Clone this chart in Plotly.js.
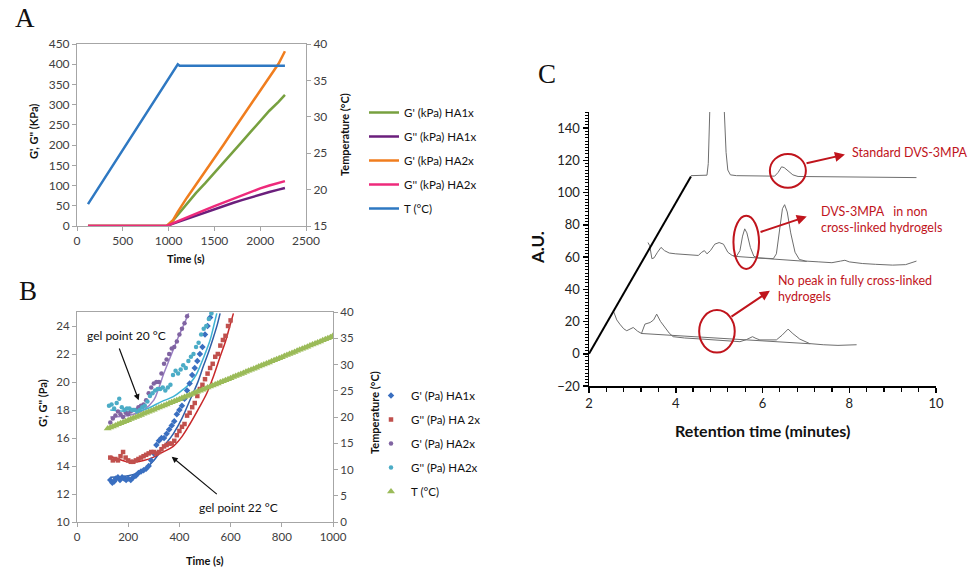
<!DOCTYPE html>
<html><head><meta charset="utf-8">
<script src="https://cdn.plot.ly/plotly-3.0.1.min.js"></script>
<style>html,body{margin:0;padding:0;background:#fff}#chart{width:969px;height:570px}</style>
</head><body><div id="chart"></div>
<script>
// ---------- Panel A data ----------
const timeA = [120, 300, 500, 700, 900, 980, 1050, 1100, 1200, 1300, 1400, 1500, 1600, 1700, 1800, 1900, 2000, 2100, 2200, 2270];
const gPrimeHA1x = [0, 0, 0, 0, 0, 0, 14, 28, 55, 82, 106, 131, 157, 183, 208, 234, 260, 285, 307, 324];
const gDoubleHA1x = [0, 0, 0, 0, 0, 0, 6, 10, 19, 27, 35, 42, 49, 57, 64, 71, 78, 84, 90, 94];
const gPrimeHA2x = [0, 0, 0, 0, 0, 0, 15, 35, 70, 102, 135, 168, 201, 235, 268, 301, 334, 367, 401, 432];
const gDoubleHA2x = [0, 0, 0, 0, 0, 0, 7, 12, 22, 31, 40, 49, 58, 67, 76, 85, 93, 100, 106, 111];
const timeT_A = [120, 1080, 1100, 1120, 2270];
const tempA = [18.0, 36.8, 37.2, 37.0, 37.0];
const namesA = ["G' (kPa) HA1x", "G'' (kPa) HA1x", "G' (kPa) HA2x", "G'' (kPa) HA2x", "T (°C)"];

// ---------- Panel B data ----------
const xBlue = [130,138,145,152,160,168,176,184,192,200,210,220,230,240,250,260,270,280,290,300,310,320,330,340,350,360,370,380,390,400,410,420,430,440,450,460,470,480,490,500,510,520];
const yBlue = [13.0,12.8,12.9,13.1,13.2,13.0,13.2,13.1,13.0,13.1,13.0,13.2,13.3,13.5,13.6,13.7,13.8,14.0,14.4,14.9,15.5,15.8,16.0,16.0,16.3,16.6,16.9,17.2,17.7,18.0,18.3,18.8,19.4,19.9,20.5,21.0,21.5,22.0,22.5,23.4,24.0,24.6];
const xRed = [130,140,150,160,170,180,190,200,210,220,230,240,250,260,270,280,290,300,310,320,330,340,350,360,370,380,390,400,410,420,430,440,450,460,470,480,490,500,510,520,530,540,550,560,570,580,590,600];
const yRed = [14.6,14.4,14.5,14.4,14.7,15.0,14.6,14.4,14.3,14.3,14.4,14.5,14.6,14.7,14.8,14.9,15.0,15.0,14.9,15.0,15.2,15.4,15.5,15.6,15.6,15.8,16.2,16.5,16.8,17.0,17.6,17.8,18.2,18.5,19.0,19.5,19.8,20.2,20.6,21.0,21.3,21.8,22.0,22.6,23.0,23.3,24.0,24.4];
const xPurple = [130,140,150,160,170,180,190,200,210,220,230,240,250,260,270,280,290,300,310,320,330,340,350,360,370,380,390,400,410,420,430];
const yPurple = [17.1,17.4,17.6,17.9,17.7,17.5,17.8,17.7,17.9,18.0,18.0,18.2,18.3,18.4,18.7,19.2,19.6,19.9,20.0,20.0,20.6,21.3,21.6,22.0,22.4,22.5,22.9,23.4,23.8,24.2,24.7];
const xCyan = [125,135,145,155,165,175,185,195,205,215,225,235,245,255,265,275,285,295,305,315,325,335,345,355,365,375,385,395,405,415,425,435,445,455,465,475,485,495,505,515,525];
const yCyan = [18.3,18.4,18.1,18.5,18.8,18.2,18.0,18.1,18.1,18.0,18.0,17.9,18.0,18.2,18.3,18.6,19.0,19.2,19.4,19.5,19.5,19.6,19.4,19.6,19.8,20.5,20.8,20.6,20.9,21.2,21.0,21.5,21.8,22.0,22.5,22.8,23.4,23.8,24.0,24.5,24.9];
const xTempB = [120,130,140,150,160,170,180,190,200,210,220,230,240,250,260,270,280,290,300,310,320,330,340,350,360,370,380,390,400,410,420,430,440,450,460,470,480,490,500,510,520,530,540,550,560,570,580,590,600,610,620,630,640,650,660,670,680,690,700,710,720,730,740,750,760,770,780,790,800,810,820,830,840,850,860,870,880,890,900,910,920,930,940,950,960,970,980,990,1000];
const yTempB = [17.8,18.0,18.2,18.4,18.6,18.8,19.0,19.2,19.4,19.6,19.8,20.0,20.2,20.4,20.6,20.8,21.0,21.2,21.4,21.6,21.8,22.0,22.2,22.4,22.6,22.8,23.0,23.2,23.4,23.6,23.8,24.0,24.2,24.4,24.6,24.8,25.0,25.2,25.4,25.6,25.8,26.0,26.2,26.4,26.6,26.8,27.0,27.2,27.4,27.6,27.8,28.0,28.2,28.4,28.6,28.8,29.0,29.2,29.4,29.6,29.8,30.0,30.2,30.4,30.6,30.8,31.0,31.2,31.4,31.6,31.8,32.0,32.2,32.4,32.6,32.8,33.0,33.2,33.4,33.6,33.8,34.0,34.2,34.4,34.6,34.8,35.0,35.2,35.5];
// fitted curves
const xFitBlue = [130, 200, 260, 300, 339, 376, 410, 441, 470, 493, 515, 533, 548, 559];
const yFitBlue = [13.2, 13.3, 13.7, 14.4, 15.4, 16.3, 17.4, 18.7, 19.9, 21.1, 22.2, 23.2, 24.1, 24.9];
const xFitRed = [130, 160, 195, 230, 260, 295, 325, 376, 410, 441, 475, 507, 535, 559, 580, 597, 611];
const yFitRed = [14.7, 14.5, 14.3, 14.3, 14.4, 14.6, 14.9, 15.4, 16.1, 17.0, 18.1, 19.2, 20.5, 21.8, 22.9, 24.0, 24.9];
const xFitPurple = [130, 200, 260, 300, 320, 339, 365, 391, 415, 436];
const yFitPurple = [17.5, 17.6, 18.0, 18.7, 19.6, 20.6, 21.8, 23.0, 24.0, 24.9];
const xFitCyan = [130, 200, 260, 330, 376, 410, 441, 465, 480, 500, 520, 534, 546];
const yFitCyan = [18.0, 17.9, 18.0, 18.6, 18.95, 19.4, 19.9, 20.5, 21.1, 22.0, 23.0, 24.0, 24.9];
const namesB = ["G' (Pa) HA1x", "G'' (Pa) HA 2x", "G' (Pa) HA2x", "G'' (Pa) HA2x", "T (°C)"];

// ---------- Panel C data ----------
const xStd = [4.35, 4.6, 4.72, 4.75, 4.78, 4.81, 5.08, 5.12, 5.16, 5.2, 5.26, 5.4, 6.0, 6.28, 6.36, 6.44, 6.5, 6.6, 6.7, 6.82, 7.5, 8.5, 9.55];
const yStd = [110.5, 110.5, 110.8, 118, 140, 175, 175, 150, 125, 114, 111, 110.5, 110.2, 110.2, 112.5, 116, 115.5, 113, 111, 110, 109.8, 109.5, 109.3];
const xMid = [3.36, 3.4, 3.45, 3.5, 3.58, 3.66, 3.74, 3.85, 4.0, 4.2, 4.4, 4.52, 4.6, 4.66, 4.72, 4.8, 4.9, 5.0, 5.1, 5.2, 5.3, 5.4, 5.48, 5.54, 5.59, 5.64, 5.72, 5.8, 5.9, 6.1, 6.25, 6.32, 6.4, 6.46, 6.51, 6.57, 6.65, 6.75, 6.85, 7.0, 7.3, 7.6, 7.8, 7.9, 8.0, 8.3, 8.6, 9.0, 9.3, 9.45, 9.55];
const yMid = [69, 67, 59, 59.5, 63, 66, 64, 62.5, 62, 61.5, 61, 61, 63, 64, 62, 64, 68, 69, 68, 63, 61, 60.5, 64, 73, 77.5, 75, 66, 60.5, 59.5, 59, 59, 62, 78, 90, 92.5, 88, 75, 63, 58.5, 57.5, 57, 56.5, 57.5, 58, 57, 56, 55.5, 55, 55.3, 56.5, 57.5];
const xLow = [2.56, 2.64, 2.71, 2.8, 2.87, 2.95, 3.02, 3.12, 3.21, 3.29, 3.41, 3.49, 3.56, 3.65, 3.75, 3.85, 3.94, 4.2, 4.56, 5.0, 5.48, 5.63, 5.72, 5.77, 5.85, 5.94, 6.32, 6.45, 6.59, 6.7, 6.86, 7.09, 7.4, 7.74, 8.17];
const yLow = [26.7, 21, 18.4, 15.5, 14.3, 15.5, 16.3, 14, 12.6, 18.4, 19.4, 21, 24.6, 20, 16.3, 12.8, 10.6, 9.8, 9.2, 8.5, 7.5, 8.8, 10.3, 10.6, 9.5, 8.6, 8.6, 11.5, 15.3, 12.5, 9.1, 6.3, 5.6, 5.2, 5.6];
const xBaseMid = [5.33, 7.02];
const yBaseMid = [60.5, 57.3];
const xBaseLow = [3.2, 7.1];
const yBaseLow = [12.6, 6.2];
const xOffset = [2, 4.35];
const yOffset = [0, 110];

// ---------- layout helpers ----------
const W = 969, H = 570;
const PX = p => p / W;
const PY = p => 1 - p / H;
const FONT = 'Lato, "Open Sans", sans-serif';
const TICKC = '#404040';
const GRAYL = '#a6a6a6';

const traces = [];
// Panel A
const colA = ['#77a03f', '#6b1f7c', '#f07d1e', '#ee2a7b', '#2e78c2'];
[gPrimeHA1x, gDoubleHA1x, gPrimeHA2x, gDoubleHA2x].forEach((ys, i) => {
  traces.push({x: timeA, y: ys, type: 'scatter', mode: 'lines', name: namesA[i],
    line: {color: colA[i], width: 2.5}, xaxis: 'x', yaxis: 'y', legend: 'legend', legendgroup: 'a' + i});
});
traces.push({x: timeT_A, y: tempA, type: 'scatter', mode: 'lines', name: namesA[4],
  line: {color: colA[4], width: 2.5}, xaxis: 'x', yaxis: 'y2', legend: 'legend', legendgroup: 'a4'});

// Panel B fits (no legend)
const fitSets = [[xFitBlue, yFitBlue, '#2f5fa8'], [xFitRed, yFitRed, '#c8282a'], [xFitPurple, yFitPurple, '#9a80c4'], [xFitCyan, yFitCyan, '#3fb3d4']];
fitSets.forEach(f => traces.push({x: f[0], y: f[1], type: 'scatter', mode: 'lines', line: {color: f[2], width: 1.5, shape: 'spline'},
  xaxis: 'x2', yaxis: 'y3', showlegend: false, hoverinfo: 'skip'}));
// Panel B points
const ptSets = [[xBlue, yBlue, '#3a6fc0', 'diamond', 5], [xRed, yRed, '#c0504d', 'square', 4.5], [xPurple, yPurple, '#8064a2', 'circle', 4.5], [xCyan, yCyan, '#4bacc6', 'circle', 4.5]];
ptSets.forEach((p, i) => traces.push({x: p[0], y: p[1], type: 'scatter', mode: 'markers', name: namesB[i],
  marker: {color: p[2], symbol: p[3], size: p[4]}, xaxis: 'x2', yaxis: 'y3', legend: 'legend2', legendgroup: 'b' + i}));
traces.push({x: xTempB, y: yTempB, type: 'scatter', mode: 'markers', name: namesB[4],
  marker: {color: '#9bbb59', symbol: 'triangle-up', size: 7}, xaxis: 'x2', yaxis: 'y4', legend: 'legend2', legendgroup: 'b4'});

// Panel C
[[xStd, yStd], [xMid, yMid], [xLow, yLow], [xBaseMid, yBaseMid], [xBaseLow, yBaseLow]].forEach(t => traces.push({
  x: t[0], y: t[1], type: 'scatter', mode: 'lines', line: {color: '#6e6e6e', width: 1}, xaxis: 'x3', yaxis: 'y5', showlegend: false, hoverinfo: 'skip'}));
traces.push({x: xOffset, y: yOffset, type: 'scatter', mode: 'lines', line: {color: '#000', width: 2}, xaxis: 'x3', yaxis: 'y5', showlegend: false});

const axA = {showgrid: false, zeroline: false, showline: true, linecolor: GRAYL, linewidth: 1, ticks: 'outside', ticklen: 4, tickcolor: GRAYL,
  tickfont: {family: FONT, size: 12, color: TICKC}};
const axB = Object.assign({}, axA, {tickfont: {family: FONT, size: 11.5, color: TICKC}});
const axC = {showgrid: false, zeroline: false, showline: true, linecolor: '#000', linewidth: 1.5, ticks: 'outside', ticklen: 5, tickcolor: '#000', tickwidth: 1.5,
  tickfont: {family: FONT, size: 13, color: '#222'}};

const annots = [];
const addText = (text, x, y, opts) => annots.push(Object.assign({text, x: PX(x), y: PY(y), xref: 'paper', yref: 'paper', showarrow: false,
  xanchor: 'center', yanchor: 'middle', font: {family: FONT, size: 11, color: '#111'}}, opts || {}));
// panel letters
addText('A', 25, 18, {font: {family: '"Liberation Serif", serif', size: 27, color: '#111'}});
addText('B', 28, 291, {font: {family: '"Liberation Serif", serif', size: 27, color: '#111'}});
addText('C', 547, 74, {font: {family: '"Liberation Serif", serif', size: 27, color: '#111'}});
// axis titles A
addText("<b>G', G'' (KPa)</b>", 33, 132, {textangle: -90});
addText('<b>Temperature (°C)</b>', 345, 135, {textangle: -90});
addText('<b>Time (s)</b>', 186, 258);
// axis titles B
addText("<b>G', G'' (Pa)</b>", 42, 403, {textangle: -90});
addText('<b>Temperature (°C)</b>', 374, 413, {textangle: -90});
addText('<b>Time (s)</b>', 205, 560);
addText('gel point 20 °C', 126, 335, {font: {family: FONT, size: 12, color: '#111'}});
addText('gel point 22 °C', 238, 507, {font: {family: FONT, size: 12, color: '#111'}});
// axis titles C
addText('<b>A.U.</b>', 537, 248, {textangle: -90, font: {family: FONT, size: 17, color: '#111'}});
addText('<b>Retention time (minutes)</b>', 762, 430, {font: {family: FONT, size: 16, color: '#111'}});
// red labels
const RED = '#c0141c';
addText('Standard DVS-3MPA', 850, 153, {xanchor: 'left', font: {family: FONT, size: 12.5, color: RED}});
addText('DVS-3MPA   in non<br>cross-linked hydrogels', 819, 219.5, {xanchor: 'left', align: 'left', font: {family: FONT, size: 12.5, color: RED}});
addText('No peak in fully cross-linked<br>hydrogels', 776, 288, {xanchor: 'left', align: 'left', font: {family: FONT, size: 12.5, color: RED}});
// arrows
const arrow = (x, y, ax, ay, xr, yr, col, w) => annots.push({x, y, ax, ay, xref: xr, yref: yr, axref: xr, ayref: yr, text: '', showarrow: true,
  arrowhead: 2, arrowsize: 1, arrowwidth: w, arrowcolor: col});
arrow(7.9, 123.6, 6.98, 118, 'x3', 'y5', RED, 2);
arrow(7.02, 85.1, 5.92, 75.2, 'x3', 'y5', RED, 2);
arrow(6.17, 39.1, 5.25, 22.4, 'x3', 'y5', RED, 2);
arrow(241, 18.7, 163, 22.5, 'x2', 'y3', '#111', 1.2);
arrow(370, 14.66, 552, 11.9, 'x2', 'y3', '#111', 1.2);

const shapes = [
  {type: 'circle', xref: 'x3', yref: 'y5', x0: 6.17, x1: 7.0, y0: 103, y1: 124, line: {color: RED, width: 2}},
  {type: 'circle', xref: 'x3', yref: 'y5', x0: 5.33, x1: 5.92, y0: 52.6, y1: 85.7, line: {color: RED, width: 2}},
  {type: 'circle', xref: 'x3', yref: 'y5', x0: 4.54, x1: 5.36, y0: 0.8, y1: 27.1, line: {color: RED, width: 2}}
];

const layout = {
  width: W, height: H, margin: {l: 0, r: 0, t: 0, b: 0}, paper_bgcolor: '#fff', plot_bgcolor: 'rgba(0,0,0,0)',
  font: {family: FONT, color: '#111'},
  xaxis: Object.assign({}, axA, {domain: [PX(77), PX(306)], range: [0, 2500], dtick: 500, anchor: 'y', mirror: true}),
  yaxis: Object.assign({}, axA, {domain: [PY(226), PY(44)], range: [0, 450], dtick: 50, anchor: 'x'}),
  yaxis2: Object.assign({}, axA, {overlaying: 'y', side: 'right', range: [15, 40], dtick: 5, anchor: 'x'}),
  xaxis2: Object.assign({}, axB, {domain: [PX(77), PX(333)], range: [0, 1000], dtick: 200, anchor: 'y3', mirror: true}),
  yaxis3: Object.assign({}, axB, {domain: [PY(522), PY(312)], range: [10, 25], tickvals: [10, 12, 14, 16, 18, 20, 22, 24], anchor: 'x2'}),
  yaxis4: Object.assign({}, axB, {overlaying: 'y3', side: 'right', range: [0, 40], dtick: 5, anchor: 'x2'}),
  xaxis3: Object.assign({}, axC, {domain: [PX(589), PX(936)], range: [2, 10], dtick: 2, tick0: 2, anchor: 'y5',
    minor: {dtick: 0.4, tick0: 2, ticks: 'outside', ticklen: 4, tickcolor: '#000', tickwidth: 1.2}}),
  yaxis5: Object.assign({}, axC, {domain: [PY(386), PY(112)], range: [-20, 150], dtick: 20, tick0: -20, anchor: 'x3',
    minor: {dtick: 2, tick0: 0, ticks: 'outside', ticklen: 3, tickcolor: '#000', tickwidth: 1}}),
  showlegend: true,
  legend: {x: PX(364), y: PY(98), xanchor: 'left', yanchor: 'top', bgcolor: 'rgba(0,0,0,0)', traceorder: 'grouped', tracegroupgap: 5,
    font: {family: FONT, size: 11.5, color: '#111'}},
  legend2: {x: PX(371), y: PY(381), xanchor: 'left', yanchor: 'top', bgcolor: 'rgba(0,0,0,0)', traceorder: 'grouped', tracegroupgap: 5,
    font: {family: FONT, size: 11.5, color: '#111'}},
  annotations: annots, shapes: shapes
};
Plotly.newPlot('chart', traces, layout, {staticPlot: true});
</script></body></html>
